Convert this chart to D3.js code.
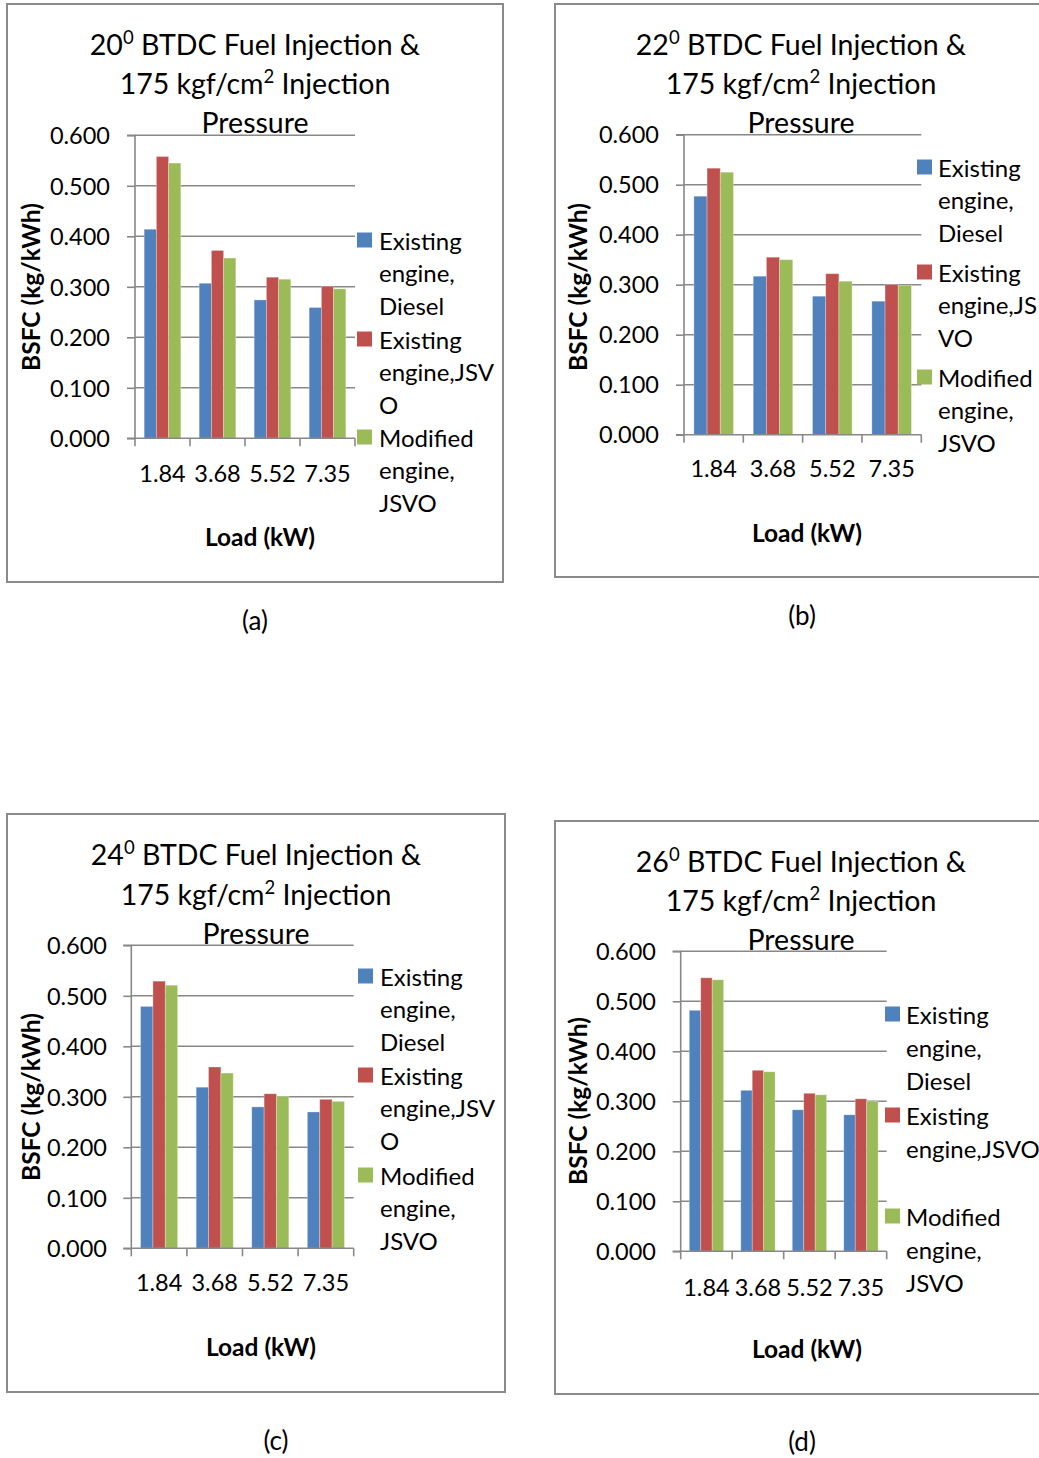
<!DOCTYPE html>
<html>
<head>
<meta charset="utf-8">
<script src="https://cdn.jsdelivr.net/npm/d3@7"></script>
<style>
  html, body { margin: 0; padding: 0; background: #fff; }
  svg { display: block; font-family: Lato, "Open Sans", sans-serif; }
</style>
</head>
<body>
<svg id="fig" width="1039" height="1458"></svg>
<script>
// Load steps shared by all four panels (kW)
const categories = ["1.84", "3.68", "5.52", "7.35"];
const seriesNames = ["Existing engine, Diesel", "Existing engine,JSVO", "Modified engine, JSVO"];
const seriesColors = ["#4F81BD", "#C0504D", "#9BBB59"];
const yTicks = [0, 0.1, 0.2, 0.3, 0.4, 0.5, 0.6];

// BSFC (kg/kWh), 20° BTDC
const a_diesel = [0.414, 0.307, 0.274, 0.259];
const a_jsvo = [0.558, 0.372, 0.319, 0.301];
const a_modJsvo = [0.545, 0.357, 0.315, 0.296];
// 22° BTDC
const b_diesel = [0.477, 0.317, 0.277, 0.267];
const b_jsvo = [0.533, 0.355, 0.322, 0.300];
const b_modJsvo = [0.525, 0.350, 0.307, 0.299];
// 24° BTDC
const c_diesel = [0.479, 0.319, 0.280, 0.270];
const c_jsvo = [0.529, 0.359, 0.306, 0.295];
const c_modJsvo = [0.521, 0.347, 0.301, 0.291];
// 26° BTDC
const d_diesel = [0.482, 0.322, 0.283, 0.273];
const d_jsvo = [0.547, 0.362, 0.316, 0.305];
const d_modJsvo = [0.543, 0.359, 0.313, 0.300];

const angles = ["20", "22", "24", "26"];
const captions = ["(a)", "(b)", "(c)", "(d)"];

// Panel layouts
const panels = [
  {
    values: [a_diesel, a_jsvo, a_modJsvo], angle: angles[0], caption: captions[0],
    frame: { x: 7, y: 4, w: 496, h: 578 },
    plot: { left: 135, right: 355, top: 135.3, bottom: 438.3 },
    titleX: 255, titleY: [44, 83, 122],
    yLabel: { x: 30, y: 287 }, xLabel: { x: 260, y: 536 },
    tickLabelY: 473, tickLabelRight: 110,
    legend: { sqX: 357, textX: 379,
      items: [{ y: 240, lines: ["Existing", "engine,", "Diesel"] },
              { y: 339, lines: ["Existing", "engine,JSV", "O"] },
              { y: 437, lines: ["Modified", "engine,", "JSVO"] }], lh: 32.5 },
    capPos: { x: 255, y: 620 }
  },
  {
    values: [b_diesel, b_jsvo, b_modJsvo], angle: angles[1], caption: captions[1],
    frame: { x: 555, y: 4, w: 490, h: 573 },
    plot: { left: 684, right: 921.3, top: 134.7, bottom: 434.7 },
    titleX: 801, titleY: [44, 83, 122],
    yLabel: { x: 577, y: 287 }, xLabel: { x: 807, y: 532 },
    tickLabelY: 468, tickLabelRight: 659,
    legend: { sqX: 917, textX: 938,
      items: [{ y: 167, lines: ["Existing", "engine,", "Diesel"] },
              { y: 272, lines: ["Existing", "engine,JS", "VO"] },
              { y: 377, lines: ["Modified", "engine,", "JSVO"] }], lh: 32.5 },
    capPos: { x: 802, y: 615 }
  },
  {
    values: [c_diesel, c_jsvo, c_modJsvo], angle: angles[2], caption: captions[2],
    frame: { x: 7, y: 814, w: 498, h: 578 },
    plot: { left: 131.3, right: 353.7, top: 945.3, bottom: 1248.3 },
    titleX: 256, titleY: [854, 894, 933],
    yLabel: { x: 30, y: 1097 }, xLabel: { x: 261, y: 1346 },
    tickLabelY: 1282, tickLabelRight: 107,
    legend: { sqX: 358, textX: 380,
      items: [{ y: 976, lines: ["Existing", "engine,", "Diesel"] },
              { y: 1075, lines: ["Existing", "engine,JSV", "O"] },
              { y: 1175, lines: ["Modified", "engine,", "JSVO"] }], lh: 32.5 },
    capPos: { x: 276, y: 1440 }
  },
  {
    values: [d_diesel, d_jsvo, d_modJsvo], angle: angles[3], caption: captions[3],
    frame: { x: 555, y: 821, w: 490, h: 573 },
    plot: { left: 680.7, right: 886.7, top: 951.3, bottom: 1251.3 },
    titleX: 801, titleY: [861, 900, 939],
    yLabel: { x: 577, y: 1101 }, xLabel: { x: 807, y: 1348 },
    tickLabelY: 1287, tickLabelRight: 656,
    legend: { sqX: 885, textX: 906,
      items: [{ y: 1014, lines: ["Existing", "engine,", "Diesel"] },
              { y: 1115, lines: ["Existing", "engine,JSVO", ""] },
              { y: 1216, lines: ["Modified", "engine,", "JSVO"] }], lh: 33 },
    capPos: { x: 802, y: 1441 }
  }
];

const svg = d3.select("#fig");
const gridColor = "#888888";
const fs = { title: 28.5, tick: 23.5, legend: 24, axisTitle: 24.5, caption: 26 };

panels.forEach(p => {
  const g = svg.append("g");

  // chart frame
  g.append("rect")
    .attr("x", p.frame.x).attr("y", p.frame.y)
    .attr("width", p.frame.w).attr("height", p.frame.h)
    .attr("fill", "#fff").attr("stroke", "#8a8a8a").attr("stroke-width", 2);

  const y = d3.scaleLinear().domain([0, 0.6]).range([p.plot.bottom, p.plot.top]);
  const x0 = d3.scaleBand().domain(categories).range([p.plot.left, p.plot.right])
    .paddingInner(0).paddingOuter(0);
  const x1 = d3.scaleBand().domain(d3.range(seriesNames.length)).range([0, x0.bandwidth()])
    .paddingInner(0).paddingOuter(0.75);

  // horizontal gridlines
  g.append("g").selectAll("line").data(yTicks.slice(1)).join("line")
    .attr("x1", p.plot.left).attr("x2", p.plot.right)
    .attr("y1", d => y(d)).attr("y2", d => y(d))
    .attr("stroke", gridColor).attr("stroke-width", 1.6);

  // y axis
  const yAxis = d3.axisLeft(y).tickValues(yTicks).tickSize(8).tickFormat(d3.format(".3f"));
  const ya = g.append("g").attr("transform", `translate(${p.plot.left},0)`).call(yAxis);
  ya.select(".domain").attr("stroke", gridColor).attr("stroke-width", 1.6)
    .attr("d", `M-8,${p.plot.bottom}H0V${p.plot.top}H-8`);
  ya.selectAll(".tick line").attr("stroke", gridColor).attr("stroke-width", 1.6);
  ya.selectAll(".tick text")
    .attr("x", p.tickLabelRight - p.plot.left).attr("dy", "0.35em")
    .attr("font-size", fs.tick).attr("fill", "#000").attr("font-family", "Lato");

  // bars
  const series = g.append("g").selectAll("g").data(p.values).join("g")
    .attr("fill", (d, i) => seriesColors[i]);
  series.each(function (vals, si) {
    d3.select(this).selectAll("rect").data(vals).join("rect")
      .attr("x", (v, ci) => x0(categories[ci]) + x1(si))
      .attr("width", x1.bandwidth())
      .attr("y", v => y(v))
      .attr("height", v => y(0) - y(v))
      .attr("stroke", "rgba(255,255,255,0.35)").attr("stroke-width", 0.8);
  });

  // x axis
  const xa = g.append("g").attr("transform", `translate(0,${p.plot.bottom})`);
  xa.append("line").attr("x1", p.plot.left).attr("x2", p.plot.right)
    .attr("stroke", gridColor).attr("stroke-width", 1.6);
  const bounds = categories.map(c => x0(c)).concat([p.plot.right]);
  xa.selectAll("line.tk").data(bounds).join("line").attr("class", "tk")
    .attr("x1", d => d).attr("x2", d => d).attr("y1", 0).attr("y2", 8)
    .attr("stroke", gridColor).attr("stroke-width", 1.6);
  g.append("g").selectAll("text").data(categories).join("text")
    .attr("x", c => x0(c) + x0.bandwidth() / 2).attr("y", p.tickLabelY)
    .attr("text-anchor", "middle").attr("dominant-baseline", "central")
    .attr("font-size", fs.tick).text(c => c);

  // title
  const supSize = fs.title * 0.65;
  const t = g.append("g").attr("font-size", fs.title).attr("text-anchor", "middle");
  const l1 = t.append("text").attr("x", p.titleX).attr("y", p.titleY[0]).attr("dominant-baseline", "central");
  l1.append("tspan").text(p.angle);
  l1.append("tspan").attr("font-size", supSize).attr("dy", -7).text("0");
  l1.append("tspan").attr("dy", 7).text(" BTDC Fuel Injection &");
  const l2 = t.append("text").attr("x", p.titleX).attr("y", p.titleY[1]).attr("dominant-baseline", "central");
  l2.append("tspan").text("175 kgf/cm");
  l2.append("tspan").attr("font-size", supSize).attr("dy", -7).text("2");
  l2.append("tspan").attr("dy", 7).text(" Injection");
  t.append("text").attr("x", p.titleX).attr("y", p.titleY[2]).attr("dominant-baseline", "central")
    .text("Pressure");

  // axis titles
  g.append("text")
    .attr("transform", `translate(${p.yLabel.x},${p.yLabel.y}) rotate(-90)`)
    .attr("text-anchor", "middle").attr("dominant-baseline", "central")
    .attr("font-size", fs.axisTitle).attr("font-weight", "bold").text("BSFC (kg/kWh)");
  g.append("text").attr("x", p.xLabel.x).attr("y", p.xLabel.y)
    .attr("text-anchor", "middle").attr("dominant-baseline", "central")
    .attr("font-size", fs.axisTitle).attr("font-weight", "bold").text("Load (kW)");

  // legend
  const lg = g.append("g");
  p.legend.items.forEach((it, i) => {
    lg.append("rect").attr("x", p.legend.sqX).attr("y", it.y - 7.5)
      .attr("width", 15).attr("height", 15).attr("fill", seriesColors[i]);
    it.lines.forEach((ln, k) => {
      lg.append("text").attr("x", p.legend.textX).attr("y", it.y + k * p.legend.lh)
        .attr("dominant-baseline", "central").attr("font-size", fs.legend).text(ln);
    });
  });

  // panel caption
  svg.append("text").attr("x", p.capPos.x).attr("y", p.capPos.y)
    .attr("text-anchor", "middle").attr("dominant-baseline", "central")
    .attr("font-size", fs.caption).text(p.caption);
});
</script>
</body>
</html>
